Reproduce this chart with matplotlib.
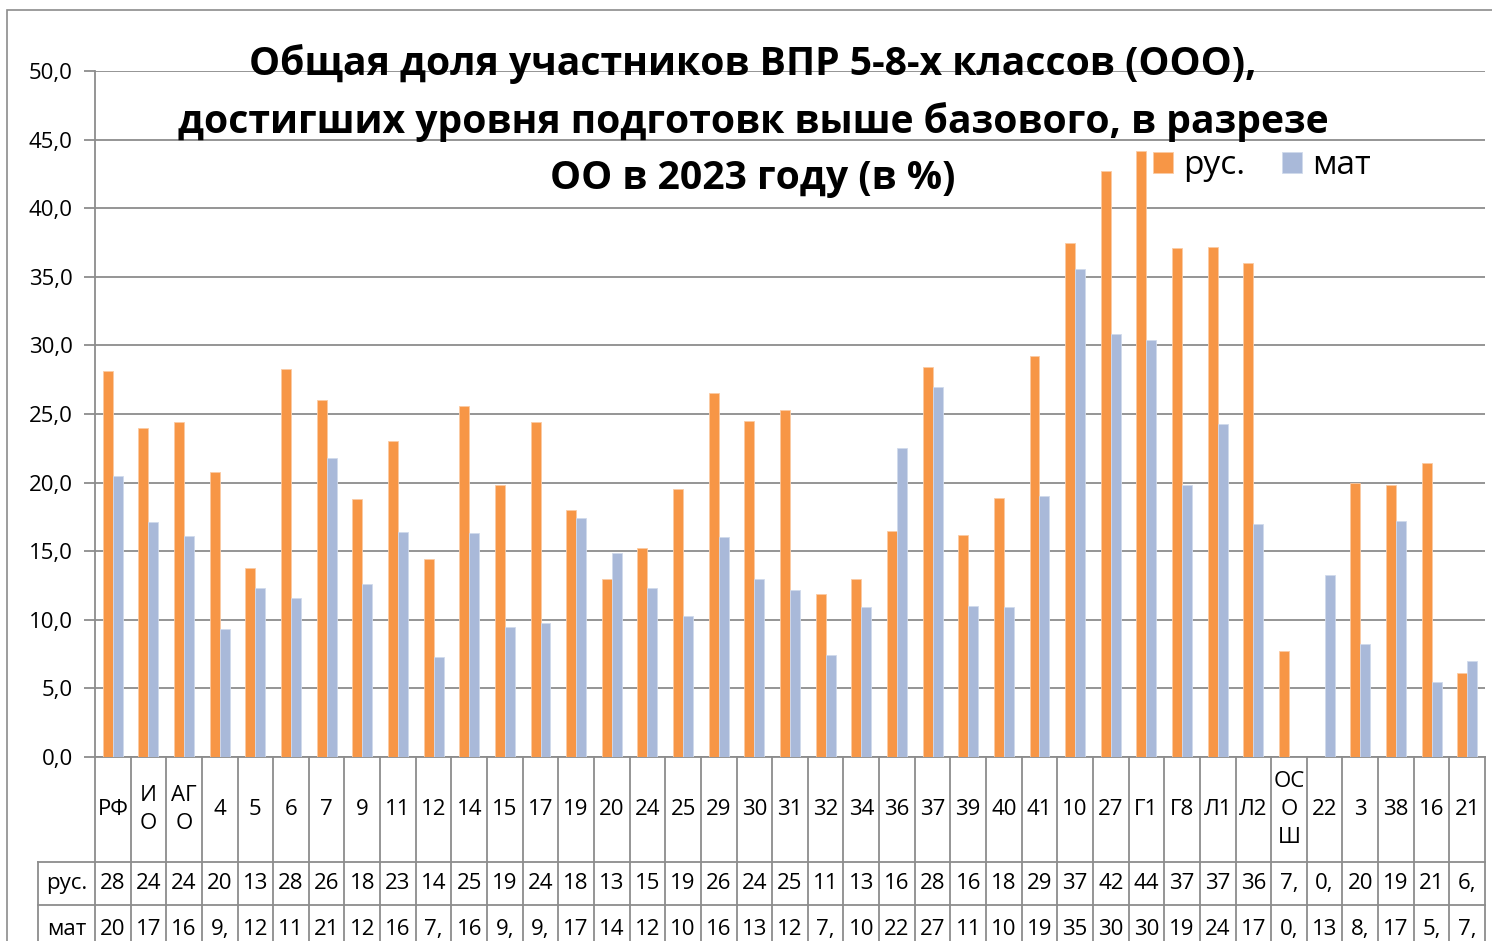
import matplotlib
matplotlib.use("Agg")
import matplotlib.pyplot as plt
from matplotlib.patches import Rectangle
from matplotlib.transforms import blended_transform_factory
import numpy as np

plt.rcParams["font.family"] = ["Open Sans", "DejaVu Sans"]

categories = ["РФ", "И\nО", "АГ\nО", "4", "5", "6", "7", "9", "11", "12", "14", "15",
              "17", "19", "20", "24", "25", "29", "30", "31", "32", "34", "36", "37",
              "39", "40", "41", "10", "27", "Г1", "Г8", "Л1", "Л2", "ОС\nО\nШ", "22",
              "3", "38", "16", "21"]
rus = [28.1, 24.0, 24.4, 20.8, 13.8, 28.3, 26.0, 18.8, 23.0, 14.4, 25.6, 19.8,
       24.4, 18.0, 13.0, 15.2, 19.5, 26.5, 24.5, 25.3, 11.9, 13.0, 16.5, 28.4,
       16.2, 18.9, 29.2, 37.5, 42.7, 44.2, 37.1, 37.2, 36.0, 7.7, 0.0,
       20.0, 19.8, 21.4, 6.1]
mat = [20.5, 17.1, 16.1, 9.3, 12.3, 11.6, 21.8, 12.6, 16.4, 7.3, 16.3, 9.5,
       9.8, 17.4, 14.9, 12.3, 10.3, 16.0, 13.0, 12.2, 7.4, 10.9, 22.5, 27.0,
       11.0, 10.9, 19.0, 35.6, 30.8, 30.4, 19.8, 24.3, 17.0, 0.0, 13.3,
       8.2, 17.2, 5.5, 7.0]
series_names = ["рус.", "мат"]
yticks = [0, 5, 10, 15, 20, 25, 30, 35, 40, 45, 50]
title = ("Общая доля участников ВПР 5-8-х классов (ООО),\n"
         "достигших уровня подготовк выше базового, в разрезе\n"
         "ОО в 2023 году (в %)")

ORANGE = "#F79646"
BLUE = "#A9B9D9"
GRID = "#8C8C8C"

W, H = 1492, 941
fig = plt.figure(figsize=(W / 100, H / 100), dpi=100)

# outer chart frame
fig.patches.append(Rectangle((7 / W, -0.1), 1.2, 1.1 - 10 / H, transform=fig.transFigure,
                             fill=False, edgecolor=GRID, lw=1.2))

x0, x1, y0, y1 = 95, 1485, 757, 71
ax = fig.add_axes([x0 / W, 1 - y0 / H, (x1 - x0) / W, (y0 - y1) / H])

n = len(categories)
x = np.arange(n)
bw = 0.28
ax.bar(x - bw / 2, rus, bw, color=ORANGE, edgecolor="#FBCBA4", linewidth=0.6,
       label=series_names[0], zorder=3)
ax.bar(x + bw / 2, mat, bw, color=BLUE, edgecolor="#D0DAEC", linewidth=0.6,
       label=series_names[1], zorder=3)

ax.set_xlim(-0.5, n - 0.5)
ax.set_ylim(0, 50)
ax.set_yticks(yticks)
ax.set_yticklabels([f"{v:.1f}".replace(".", ",") for v in yticks], fontsize=16)
ax.yaxis.grid(True, color=GRID, lw=1.3, zorder=0)
ax.tick_params(axis="y", length=8, width=1.3, color=GRID, pad=8)
ax.set_xticks([])
for s in ["top", "right"]:
    ax.spines[s].set_visible(False)
for s in ["left", "bottom"]:
    ax.spines[s].set_color(GRID)
    ax.spines[s].set_linewidth(1.3)

# data table below the plot
ph = y0 - y1
row1 = -(862 - y0) / ph
row2 = -(905 - y0) / ph
bottom = -(960 - y0) / ph
lab_left = -0.5 - (x0 - 38) / ((x1 - x0) / n)
bt = blended_transform_factory(ax.transData, ax.transAxes)
for k in range(n + 1):
    ax.plot([k - 0.5, k - 0.5], [0, bottom], color=GRID, lw=1.3, transform=bt, clip_on=False)
ax.plot([lab_left, lab_left], [row1, bottom], color=GRID, lw=1.3, transform=bt, clip_on=False)
for yy in [row1, row2]:
    ax.plot([lab_left, n - 0.5], [yy, yy], color=GRID, lw=1.3, transform=bt, clip_on=False)

def short(v):
    return f"{v:.1f}".replace(".", ",")[:2]

for i, c in enumerate(categories):
    ax.text(i, row1 / 2, c, transform=bt, ha="center", va="center", fontsize=16,
            linespacing=1.45)
    ax.text(i, (row1 + row2) / 2, short(rus[i]), transform=bt, ha="center", va="center",
            fontsize=16)
    ax.text(i, row2 - (row1 - row2) / 2 - 0.005, short(mat[i]), transform=bt,
            ha="center", va="center", fontsize=16)
lab_mid = (lab_left - 0.5) / 2
ax.text(lab_mid, (row1 + row2) / 2, series_names[0], transform=bt, ha="center",
        va="center", fontsize=16)
ax.text(lab_mid, row2 - (row1 - row2) / 2 - 0.005, series_names[1], transform=bt,
        ha="center", va="center", fontsize=16)

fig.text(753 / W, 1 - 121 / H, title, ha="center", va="center", fontsize=28.2,
         fontweight="bold", linespacing=1.57)

ax.legend(loc="center left", bbox_to_anchor=(1153 / W, 1 - 166 / H),
          bbox_transform=fig.transFigure, ncol=2, frameon=False, fontsize=24,
          borderpad=0, borderaxespad=0, handlelength=0.6, handleheight=0.6,
          handletextpad=0.3, columnspacing=1.1)

fig.savefig("out.png", dpi=100)
